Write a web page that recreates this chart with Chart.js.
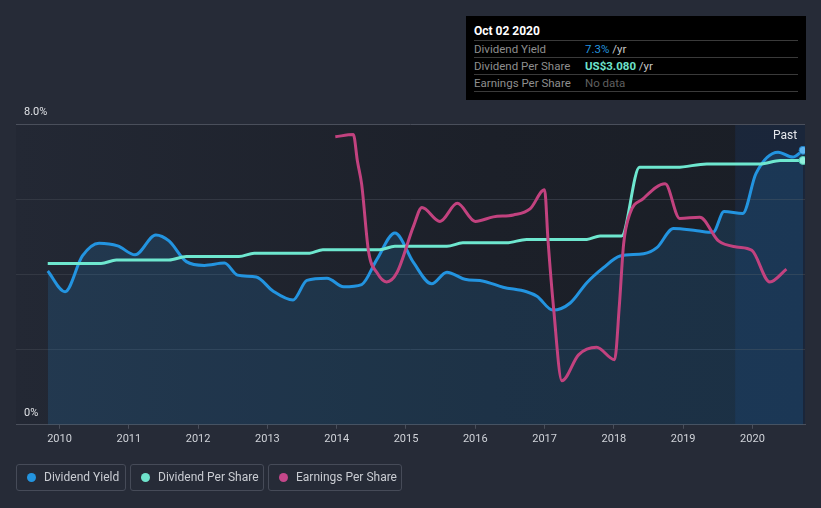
<!DOCTYPE html>
<html>
<head>
<meta charset="utf-8">
<script src="https://cdn.jsdelivr.net/npm/chart.js@4.4.1/dist/chart.umd.min.js"></script>
<style>
  html, body { margin: 0; padding: 0; background: #262b37; }
  body { width: 821px; height: 508px; position: relative; overflow: hidden; font-family: Roboto, "Noto Sans", sans-serif; }
  #wrap { position: absolute; left: 0; top: 0; width: 821px; height: 508px; }
  .tip { position: absolute; left: 466px; top: 16px; width: 340px; height: 84px; background: #000; box-sizing: border-box; padding: 6px 8px 0 8px; }
  .tip .title { color: #fff; font-weight: bold; font-size: 12px; height: 18px; line-height: 18px; border-bottom: 1px solid #3a3a3a; }
  .tip .row { font-size: 11.5px; height: 16px; line-height: 16px; border-bottom: 1px solid #3a3a3a; color: #8e8e8e; position: relative; }
  .tip .row span.v { position: absolute; left: 111px; }
  .legend { position: absolute; top: 464px; height: 27px; box-sizing: border-box; border: 1px solid #464b58; border-radius: 3px; color: #c9ccd2; font-size: 12px; line-height: 25px; padding-left: 27px; white-space: nowrap; }
  .legend i { position: absolute; left: 10px; top: 8px; width: 9px; height: 9px; border-radius: 50%; }
</style>
</head>
<body>
<div id="wrap"><canvas id="chart" width="821" height="508"></canvas></div>

<div class="tip">
  <div class="title">Oct 02 2020</div>
  <div class="row">Dividend Yield<span class="v"><span style="color:#2394df">7.3%</span> <span style="color:#c8c8c8">/yr</span></span></div>
  <div class="row">Dividend Per Share<span class="v"><span style="color:#6fe3cc;font-weight:bold">US$3.080</span> <span style="color:#c8c8c8">/yr</span></span></div>
  <div class="row">Earnings Per Share<span class="v" style="color:#5f5f5f">No data</span></div>
</div>

<div class="legend" style="left:16px;width:110px"><i style="background:#2394df"></i>Dividend Yield</div>
<div class="legend" style="left:130px;width:134px"><i style="background:#6fe3cc"></i>Dividend Per Share</div>
<div class="legend" style="left:268px;width:134px"><i style="background:#c4478a"></i>Earnings Per Share</div>

<script>
// Dividend yield (%)
const yieldYears = [2009.83, 2010.08, 2010.33, 2010.57, 2010.84, 2011.09, 2011.39, 2011.58, 2011.83, 2012.09,
  2012.38, 2012.57, 2012.84, 2013.08, 2013.37, 2013.57, 2013.86, 2014.10, 2014.36, 2014.58,
  2014.84, 2015.11, 2015.37, 2015.59, 2015.85, 2016.12, 2016.40, 2016.74, 2016.89, 2017.12,
  2017.37, 2017.61, 2017.85, 2018.09, 2018.43, 2018.62, 2018.86, 2019.20, 2019.43, 2019.59,
  2019.86, 2020.05, 2020.37, 2020.58, 2020.73];
const yieldValues = [4.09, 3.54, 4.49, 4.83, 4.76, 4.52, 5.05, 4.89, 4.34, 4.24,
  4.30, 3.98, 3.93, 3.56, 3.32, 3.84, 3.90, 3.67, 3.73, 4.40,
  5.10, 4.31, 3.75, 4.06, 3.87, 3.82, 3.66, 3.54, 3.42, 3.05,
  3.24, 3.78, 4.18, 4.49, 4.55, 4.71, 5.22, 5.16, 5.12, 5.67,
  5.62, 6.68, 7.25, 7.12, 7.30];

// Dividend per share (US$ / yr)
const dpsYears = [2009.83, 2010.60, 2010.82, 2011.58, 2011.83, 2012.59, 2012.81, 2013.61, 2013.80, 2014.62,
  2014.84, 2015.59, 2015.82, 2016.45, 2016.74, 2017.61, 2017.80, 2018.11, 2018.37, 2018.91,
  2019.34, 2020.11, 2020.40, 2020.73];
const dpsValues = [1.88, 1.88, 1.92, 1.92, 1.96, 1.96, 2.00, 2.00, 2.04, 2.04,
  2.08, 2.08, 2.12, 2.12, 2.16, 2.16, 2.20, 2.20, 3.00, 3.00,
  3.04, 3.04, 3.08, 3.08];

// Earnings per share (relative height, own hidden axis)
const epsYears = [2013.98, 2014.24, 2014.30, 2014.36, 2014.46, 2014.58, 2014.72, 2014.87, 2015.11, 2015.23,
  2015.49, 2015.74, 2016.00, 2016.26, 2016.55, 2016.79, 2017.00, 2017.05, 2017.13, 2017.25,
  2017.49, 2017.75, 2018.01, 2018.08, 2018.14, 2018.23, 2018.42, 2018.74, 2018.95, 2019.24,
  2019.51, 2019.77, 2019.99, 2020.25, 2020.49];
const epsValues = [7.66, 7.72, 7.0, 6.4, 4.6, 4.05, 3.80, 4.05, 5.29, 5.78,
  5.41, 5.89, 5.41, 5.53, 5.58, 5.74, 6.25, 4.89, 3.10, 1.17,
  1.86, 2.06, 1.73, 3.2, 4.8, 5.61, 6.01, 6.41, 5.49, 5.52,
  4.89, 4.73, 4.64, 3.80, 4.14];

const yearTicks = [2010, 2011, 2012, 2013, 2014, 2015, 2016, 2017, 2018, 2019, 2020];
const pastStart = 2019.75;

const toXY = (xs, ys) => xs.map((x, i) => ({ x: x, y: ys[i] }));
const lastDot = n => ctx => ctx.dataIndex === n - 1 ? 4 : 0;

// background of plot area + past band
const bgPlugin = {
  id: 'bg',
  beforeDraw(chart) {
    const { ctx, chartArea: a, scales } = chart;
    const g = ctx.createLinearGradient(a.left, 0, a.right, 0);
    g.addColorStop(0, '#232834');
    g.addColorStop(0.6, '#1c2029');
    g.addColorStop(1, '#1a1e26');
    ctx.save();
    ctx.fillStyle = g;
    ctx.fillRect(a.left, a.top, a.right - a.left, a.bottom - a.top);
    const px = scales.x.getPixelForValue(pastStart);
    ctx.fillStyle = 'rgba(30,90,190,0.13)';
    ctx.fillRect(px, a.top, a.right - px, a.bottom - a.top);
    ctx.fillStyle = '#e6e8ec';
    ctx.font = '12px Roboto';
    ctx.textAlign = 'center';
    ctx.textBaseline = 'middle';
    ctx.fillText('Past', 785, a.top + 12);
    ctx.restore();
  }
};

new Chart(document.getElementById('chart'), {
  type: 'line',
  data: {
    datasets: [
      {
        label: 'Earnings Per Share',
        data: toXY(epsYears, epsValues),
        yAxisID: 'yEps',
        borderColor: '#c2427f',
        borderWidth: 3,
        pointRadius: 0,
        cubicInterpolationMode: 'monotone',
        fill: false
      },
      {
        label: 'Dividend Per Share',
        data: toXY(dpsYears, dpsValues),
        yAxisID: 'yDps',
        borderColor: '#6ee7cf',
        borderWidth: 3,
        pointRadius: lastDot(dpsValues.length),
        pointBackgroundColor: '#8ff0dc',
        pointBorderColor: '#4fc9b3',
        pointBorderWidth: 1,
        cubicInterpolationMode: 'monotone',
        fill: false
      },
      {
        label: 'Dividend Yield',
        data: toXY(yieldYears, yieldValues),
        yAxisID: 'y',
        borderColor: '#2394e0',
        borderWidth: 3,
        backgroundColor: 'rgba(35,140,220,0.17)',
        pointRadius: lastDot(yieldValues.length),
        pointBackgroundColor: '#5db4f0',
        pointBorderColor: '#1f7fc4',
        pointBorderWidth: 1,
        cubicInterpolationMode: 'monotone',
        fill: 'origin'
      }
    ]
  },
  options: {
    responsive: false,
    animation: false,
    layout: { padding: { left: 0, right: 16, top: 124, bottom: 58 } },
    plugins: { legend: { display: false }, tooltip: { enabled: false } },
    scales: {
      x: {
        type: 'linear',
        min: 2009.372,
        max: 2020.758,
        afterBuildTicks: s => { s.ticks = yearTicks.map(v => ({ value: v })); },
        ticks: { color: '#d0d3d9', font: { family: 'Roboto', size: 11 }, padding: 4, callback: v => String(v) },
        grid: { drawOnChartArea: false, drawTicks: true, tickLength: 4, color: '#4a4f5b' },
        border: { color: '#4a4f5b', width: 1 }
      },
      y: {
        min: 0,
        max: 8,
        afterBuildTicks: s => { s.ticks = [0, 2, 4, 6, 8].map(v => ({ value: v })); },
        ticks: {
          mirror: true,
          padding: 8,
          labelOffset: -12,
          color: '#e0e2e6',
          font: { family: 'Roboto', size: 11 },
          callback: v => v === 8 ? '8.0%' : (v === 0 ? '0%' : '')
        },
        grid: {
          drawTicks: false,
          color: ctx => ctx.tick && ctx.tick.value === 8 ? '#4a4f5b' : '#333843'
        },
        border: { display: false }
      },
      yDps: { display: false, min: 0, max: 3.505 },
      yEps: { display: false, min: 0, max: 8 }
    }
  },
  plugins: [bgPlugin]
});
</script>
</body>
</html>
